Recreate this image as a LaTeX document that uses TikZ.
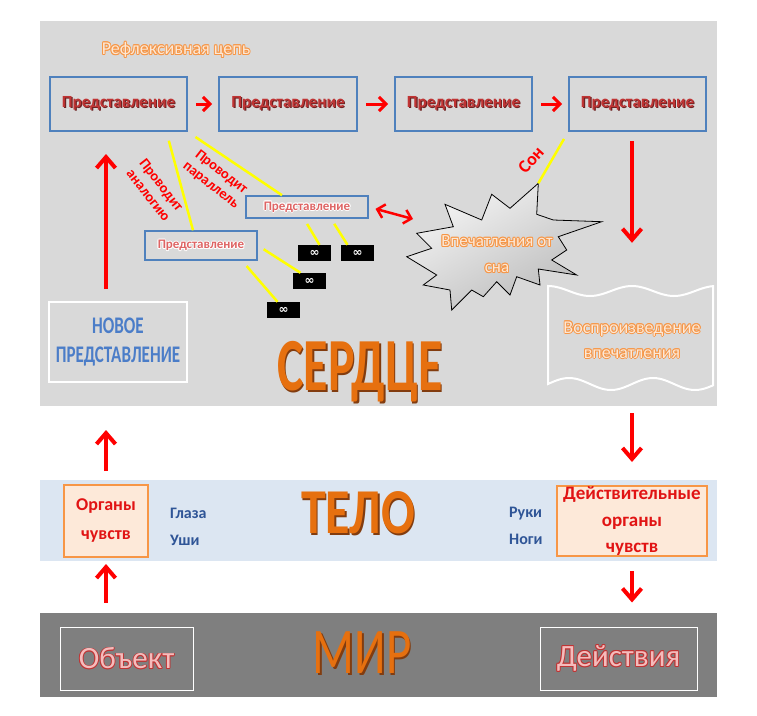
\documentclass[tikz,border=0pt]{standalone}
\usepackage{fontspec}
\setmainfont{Carlito}
\newfontfamily\symbolfont{DejaVu Sans}
\usepackage{xcolor}
\usepackage{graphicx}
\usepackage{tikz}
\usetikzlibrary{arrows.meta, positioning, calc}
\definecolor{heartgray}{RGB}{217,217,217}
\definecolor{bodyblue}{RGB}{220,230,242}
\definecolor{worldgray}{RGB}{127,127,127}
\definecolor{myblue}{RGB}{79,129,189}
\definecolor{newblue}{RGB}{75,125,200}
\definecolor{navyblue}{RGB}{47,85,151}
\definecolor{myred}{RGB}{255,0,0}
\definecolor{sensered}{RGB}{225,20,20}
\definecolor{wine}{RGB}{192,52,52}
\definecolor{winedark}{RGB}{110,35,35}
\definecolor{softred}{RGB}{222,100,100}
\definecolor{myorange}{RGB}{230,112,15}
\definecolor{orangedark}{RGB}{130,60,15}
\definecolor{lightorange}{RGB}{247,150,70}
\definecolor{paleorange}{RGB}{252,232,214}
\definecolor{peach}{RGB}{253,233,217}
\definecolor{myyellow}{RGB}{255,255,0}
\definecolor{pinkfill}{RGB}{244,188,188}
% text with a glow round it: #1 glow, #2 letters, #3 text
\newcommand{\halo}[3]{{\setbox0=\hbox{#3}%
  \rlap{\color{#1}\kern0.9pt\copy0}\rlap{\color{#1}\kern-0.9pt\copy0}%
  \rlap{\color{#1}\raise0.9pt\copy0}\rlap{\color{#1}\lower0.9pt\copy0}%
  \rlap{\color{#1}\kern0.65pt\raise0.65pt\copy0}\rlap{\color{#1}\kern-0.65pt\raise0.65pt\copy0}%
  \rlap{\color{#1}\kern0.65pt\lower0.65pt\copy0}\rlap{\color{#1}\kern-0.65pt\lower0.65pt\copy0}%
  {\color{#2}\box0}}}
% text with a shadow: [offset] #2 shadow, #3 letters, #4 text
\newcommand{\dropshadow}[4][1.2pt]{{\setbox0=\hbox{#4}%
  \rlap{\color{#2}\kern#1\lower#1\copy0}{\color{#3}\box0}}}
\tikzset{
  chainbox/.style={rectangle, draw=myblue, fill=heartgray, line width=2pt,
    minimum width=137, minimum height=54, inner sep=0pt,
    font=\fontsize{17}{20}\selectfont\bfseries},
  smallbox/.style={rectangle, draw=myblue, fill=heartgray, line width=1.5pt,
    inner sep=0pt, text=softred, font=\fontsize{13}{15}\selectfont\bfseries},
  infbox/.style={rectangle, fill=black, text=white, minimum width=33,
    minimum height=16, inner sep=0pt, font=\symbolfont\bfseries\fontsize{12}{12}\selectfont},
  newbox/.style={rectangle, draw=white, line width=2pt, minimum width=138,
    minimum height=80, inner sep=0pt, align=center, text=newblue,
    font=\fontsize{17}{29}\selectfont\bfseries},
  sensebox/.style={rectangle, draw=lightorange, fill=peach, line width=2pt,
    inner sep=0pt, align=center, text=sensered},
  worldbox/.style={rectangle, draw=white, line width=1pt, inner sep=0pt,
    minimum height=63, font=\fontsize{31}{34}\selectfont},
  glowtext/.style={align=center, inner sep=0pt},
  redlabel/.style={align=center, inner sep=0pt, text=myred,
    font=\fontsize{14.5}{16.5}\selectfont\bfseries},
  bluelabel/.style={align=left, inner sep=0pt, anchor=west, text=navyblue,
    font=\fontsize{16}{27}\selectfont\bfseries},
  bigword/.style={inner sep=0pt},
  yellowline/.style={line width=2.5pt, color=myyellow},
  redarrow/.style={-{Straight Barb[length=7pt,width=14pt]}, line width=3pt, color=myred},
  bigarrow/.style={-{Straight Barb[length=11pt,width=19pt]}, line width=4pt, color=myred},
  bothways/.style={{Straight Barb[length=7pt,width=14pt]}-{Straight Barb[length=7pt,width=14pt]},
    line width=2.5pt, color=myred},
  burst/.style={draw=black, line width=0.8pt, top color=gray!8, bottom color=gray!55,
    shading angle=30},
  docline/.style={draw=white, line width=2pt, fill=heartgray}
}
\begin{document}
\begin{tikzpicture}[x=1pt, y=-1pt]
  \useasboundingbox (0,0) rectangle (757,715);

  % Three bands
  \fill[heartgray] (40,21) rectangle (717,406);
  \fill[bodyblue] (40,480) rectangle (717,561);
  \fill[worldgray] (40,613) rectangle (717,697);

  % Reflexive chain
  \node[glowtext, font=\fontsize{18}{20}\selectfont] (chaintitle) at (176,50)
    {\halo{lightorange}{paleorange}{Рефлексивная цепь}};
  \node[chainbox] (rep1) at (118.5,104) {\dropshadow{winedark}{wine}{Представление}};
  \node[chainbox, minimum width=138] (rep2) at (288,104) {\dropshadow{winedark}{wine}{Представление}};
  \node[chainbox] (rep3) at (463.5,104) {\dropshadow{winedark}{wine}{Представление}};
  \node[chainbox] (rep4) at (637.5,104) {\dropshadow{winedark}{wine}{Представление}};
  \foreach \a/\b in {rep1/rep2, rep2/rep3, rep3/rep4}
    \draw[redarrow, shorten <=8, shorten >=6] (\a) -- (\b);

  % Side representations
  \node[smallbox, minimum width=122, minimum height=22] (smallrep1) at (307,207)
    {\halo{white}{softred}{Представление}};
  \node[smallbox, minimum width=112, minimum height=29] (smallrep2) at (201,245.5)
    {\halo{white}{softred}{Представление}};
  \node[infbox] (inf1) at (314.5,253) {∞};
  \node[infbox] (inf2) at (357.5,253) {∞};
  \node[infbox] (inf3) at (309.5,281) {∞};
  \node[infbox] (inf4) at (283.5,310) {∞};
  \draw[yellowline, shorten <=9] ([xshift=48]rep1.south) -- ([xshift=-8]smallrep2.north);
  \draw[yellowline, shorten <=9] (rep1.south east) -- ([xshift=-25]smallrep1.north);
  \draw[yellowline, shorten <=6] ([xshift=-3]smallrep1.south) -- ([xshift=5]inf1.north);
  \draw[yellowline, shorten <=6] ([xshift=24]smallrep1.south) -- ([xshift=-10]inf2.north);
  \draw[yellowline, shorten <=7] (smallrep2.east) -- ([xshift=-9]inf3.north);
  \draw[yellowline, shorten <=7] ([xshift=41]smallrep2.south) -- ([xshift=-6]inf4.north);
  \node[redlabel, rotate=-52] (analogy) at (155,190) {Проводит\\аналогию};
  \node[redlabel, rotate=-38] (parallel) at (216,179) {Проводит\\параллель};

  % Dream impressions
  \draw[burst] plot coordinates {(538.3,183.3) (536.7,214.3) (553.3,220) (601.7,221.7)
    (558.3,236.7) (566.7,250) (551.7,260) (576.7,275) (538.3,269) (540,285)
    (516.7,276.7) (510,295) (496.7,281.7) (483.3,296.7) (471.7,290) (451.7,310)
    (450,290) (423.3,285) (436.7,275) (406.7,256.7) (431.7,248.3) (416.7,233.3)
    (453.3,226.7) (445,204.3) (481.7,220) (491.7,194.3) (510,208.3)} -- cycle;
  \coordinate (dreamtop) at (538.3,183.3);
  \coordinate (dreamleft) at (413,219);
  \node[glowtext, font=\fontsize{17}{26}\selectfont] (dream) at (497,254)
    {\halo{lightorange}{paleorange}{Впечатления от}\\\halo{lightorange}{paleorange}{сна}};
  \draw[bothways, shorten <=7] (smallrep1.east) -- (dreamleft);
  \draw[yellowline, shorten <=8] (rep4.south west) -- (dreamtop);
  \node[redlabel, rotate=48, font=\fontsize{18}{20}\selectfont\bfseries] (sleep) at (531,160) {Сон};

  % Reproduction of the impression
  \draw[docline] plot[domain=548:713, samples=60] (\x, {291-5*cos((\x-548)/84*360)})
    -- plot[domain=713:548, samples=60] (\x, {384-6*sin((\x-548)/84*360)}) -- cycle;
  \node[glowtext, minimum width=165, minimum height=100, font=\fontsize{18}{25}\selectfont]
    (reprod) at (632,340)
    {\halo{lightorange}{paleorange}{Воспроизведение}\\\halo{lightorange}{paleorange}{впечатления}};
  \draw[bigarrow, shorten <=9, shorten >=47] (reprod.north |- rep4.south) -- (reprod.north);

  % New representation
  \node[newbox] (newrep) at (118,342)
    {\scalebox{1}[1.4]{НОВОЕ}\\\scalebox{1}[1.4]{ПРЕДСТАВЛЕНИЕ}};
  \node[bigword, font=\fontsize{50}{50}\selectfont\bfseries] (heart) at (360,373)
    {\scalebox{1}[1.5]{\dropshadow[1.5pt]{orangedark}{myorange}{СЕРДЦЕ}}};

  % Body
  \node[sensebox, minimum width=84, minimum height=72, font=\fontsize{18}{29}\selectfont\bfseries]
    (organs) at (106,521) {Органы\\чувств};
  \node[bluelabel] (eyes) at (170,527) {Глаза\\Уши};
  \node[bigword, font=\fontsize{50}{50}\selectfont\bfseries] (body) at (358,514)
    {\scalebox{1}[1.28]{\dropshadow[1.5pt]{orangedark}{myorange}{ТЕЛО}}};
  \node[bluelabel] (limbs) at (509,526) {Руки\\Ноги};
  \node[sensebox, minimum width=150, minimum height=70, font=\fontsize{19}{26.5}\selectfont\bfseries]
    (realorgans) at (632,521) {Действительные\\органы\\чувств};

  % World
  \node[worldbox, minimum width=133] (object) at (126.5,658.5) {\halo{wine}{pinkfill}{Объект}};
  \node[bigword, font=\fontsize{49}{49}\selectfont] (world) at (362,654)
    {\scalebox{1}[1.33]{\dropshadow[1.5pt]{orangedark}{myorange}{МИР}}};
  \node[worldbox, minimum width=157] (actions) at (618.5,658.5) {\halo{wine}{pinkfill}{Действия}};

  % Vertical arrows
  \draw[bigarrow, shorten <=12, shorten >=22] (newrep.north -| organs.north) -- (rep1.south -| organs.north);
  \draw[bigarrow, shorten <=13, shorten >=47] (organs.north) -- (organs.north |- newrep.south);
  \draw[bigarrow, shorten <=24, shorten >=6] (organs.south |- object.north) -- (organs.south);
  \draw[bigarrow, shorten <=23, shorten >=23] (reprod.south) -- (realorgans.north);
  \draw[bigarrow, shorten <=14, shorten >=24] (realorgans.south) -- (realorgans.south |- actions.north);
\end{tikzpicture}
\end{document}
